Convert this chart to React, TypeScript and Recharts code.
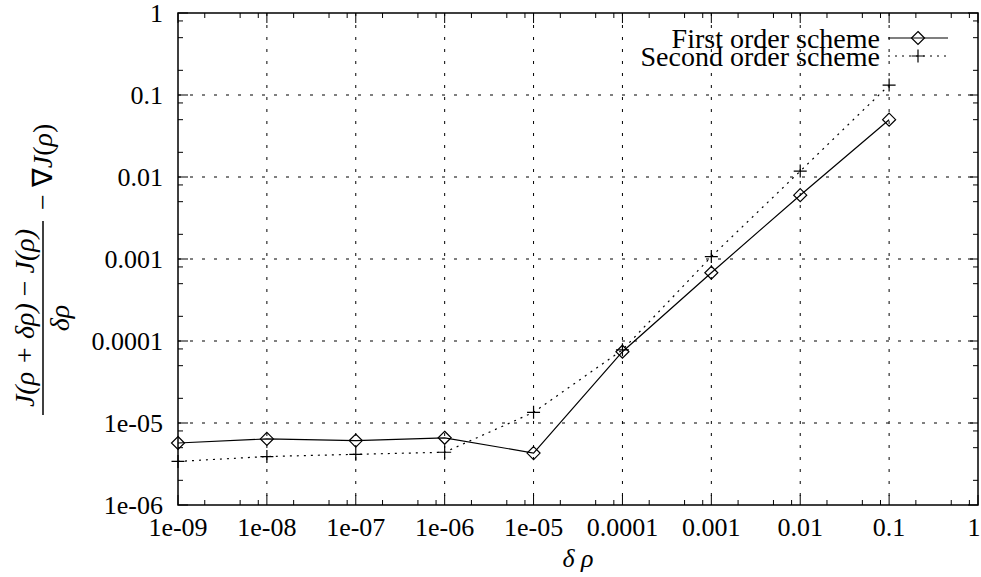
import React from 'react';
import { LineChart, Line, XAxis, YAxis, ReferenceArea, Legend } from 'recharts';

// step sizes and the two error curves
const deltaRho = [1e-9, 1e-8, 1e-7, 1e-6, 1e-5, 1e-4, 1e-3, 1e-2, 1e-1];
const firstOrder = [5.7e-6, 6.4e-6, 6.1e-6, 6.6e-6, 4.3e-6, 7.4e-5, 6.8e-4, 6.0e-3, 0.05];
const secondOrder = [3.4e-6, 3.9e-6, 4.15e-6, 4.4e-6, 1.35e-5, 7.8e-5, 1.07e-3, 0.0118, 0.132];

const xMajorTicks = [1e-9, 1e-8, 1e-7, 1e-6, 1e-5, 1e-4, 1e-3, 1e-2, 1e-1, 1];
const xTickLabels = ['1e-09', '1e-08', '1e-07', '1e-06', '1e-05', '0.0001', '0.001', '0.01', '0.1', '1'];
const yMajorTicks = [1e-6, 1e-5, 1e-4, 1e-3, 1e-2, 1e-1, 1];
const yTickLabels = ['1e-06', '1e-05', '0.0001', '0.001', '0.01', '0.1', '1'];
const minorSteps = [2, 5, 8];

const seriesNames = ['First order scheme', 'Second order scheme'];

const data = deltaRho.map((d, i) => ({ d, first: firstOrder[i], second: secondOrder[i] }));

const withMinor = (majors: number[]) => {
  const out: number[] = [];
  majors.forEach((m, i) => {
    out.push(m);
    if (i < majors.length - 1) minorSteps.forEach(s => out.push(m * s));
  });
  return out;
};

const W = 981;
const H = 577;
const M = { top: 13, right: 3, left: 0, bottom: 0 };
const Y_AXIS_W = 178;
const X_AXIS_H = 72;
const PL = Y_AXIS_W;
const PR = W - M.right;
const PT = M.top;
const PB = H - X_AXIS_H;

const FONT = '"Liberation Serif", "Times New Roman", serif';
const FS = 26;
const GRID_DASH = '3 9';

const XTick = (props: any) => {
  const { x, payload } = props;
  const v = payload.value;
  const idx = xMajorTicks.indexOf(v);
  const major = idx >= 0;
  const len = major ? 10 : 5;
  return (
    <g>
      {major && idx > 0 && idx < xMajorTicks.length - 1 && (
        <line x1={x} x2={x} y1={PT} y2={PB} stroke="#000" strokeDasharray={GRID_DASH} />
      )}
      <line x1={x} x2={x} y1={PB} y2={PB - len} stroke="#000" />
      <line x1={x} x2={x} y1={PT} y2={PT + len} stroke="#000" />
      {major && (
        <text x={idx === xMajorTicks.length - 1 ? x - 4 : x} y={PB + 22} textAnchor="middle" dominantBaseline="central" style={{ fontFamily: FONT, fontSize: FS }} fill="#000">
          {xTickLabels[idx]}
        </text>
      )}
    </g>
  );
};

const YTick = (props: any) => {
  const { y, payload } = props;
  const v = payload.value;
  const idx = yMajorTicks.indexOf(v);
  const major = idx >= 0;
  const len = major ? 10 : 5;
  return (
    <g>
      {major && idx > 0 && idx < yMajorTicks.length - 1 && (
        <line x1={PL} x2={PR} y1={y} y2={y} stroke="#000" strokeDasharray={GRID_DASH} />
      )}
      <line x1={PL} x2={PL + len} y1={y} y2={y} stroke="#000" />
      <line x1={PR} x2={PR - len} y1={y} y2={y} stroke="#000" />
      {major && (
        <text x={PL - 15} y={y} textAnchor="end" dominantBaseline="central" style={{ fontFamily: FONT, fontSize: FS }} fill="#000">
          {yTickLabels[idx]}
        </text>
      )}
    </g>
  );
};

const Diamond = (props: any) => {
  const { cx, cy, index } = props;
  const r = 6.5;
  return (
    <path key={`d${index}`} d={`M${cx},${cy - r}L${cx + r},${cy}L${cx},${cy + r}L${cx - r},${cy}Z`} fill="none" stroke="#000" strokeWidth={1.2} />
  );
};

const Plus = (props: any) => {
  const { cx, cy, index } = props;
  const r = 6.5;
  return (
    <path key={`p${index}`} d={`M${cx - r},${cy}H${cx + r}M${cx},${cy - r}V${cy + r}`} fill="none" stroke="#000" strokeWidth={1.2} />
  );
};

const YLabel = () => {
  const cx = 43;
  const cy = 318;
  return (
    <g transform={`translate(${cx},${cy}) rotate(-90)`} style={{ fontFamily: FONT, fontSize: 28 }} fill="#000">
      <text x={0} y={-9} textAnchor="middle" fontStyle="italic">
        J(ρ + δρ) <tspan fontStyle="normal">−</tspan> J(ρ)
      </text>
      <line x1={-97} x2={97} y1={0} y2={0} stroke="#000" strokeWidth={1.5} />
      <text x={0} y={26} textAnchor="middle" fontStyle="italic">δρ</text>
      <text x={108} y={9} textAnchor="start">
        − ∇<tspan fontStyle="italic">J</tspan>(<tspan fontStyle="italic">ρ</tspan>)
      </text>
    </g>
  );
};

const XLabel = (props: any) => {
  const { viewBox } = props;
  const cx = viewBox.x + viewBox.width / 2;
  return (
    <text x={cx} y={H - 19} textAnchor="middle" dominantBaseline="central" fontStyle="italic" style={{ fontFamily: FONT, fontSize: FS }} fill="#000">
      δ ρ
    </text>
  );
};

const LegendBox = () => (
  <svg width={360} height={45} style={{ display: 'block', overflow: 'visible' }}>
    <g style={{ fontFamily: FONT, fontSize: 28 }} fill="#000">
      <text x={250} y={16} textAnchor="end" dominantBaseline="central">{seriesNames[0]}</text>
      <line x1={258} x2={318} y1={16} y2={16} stroke="#000" strokeWidth={1.2} />
      <Diamond cx={288} cy={16} index={0} />
      <text x={250} y={34} textAnchor="end" dominantBaseline="central">{seriesNames[1]}</text>
      <line x1={258} x2={318} y1={34} y2={34} stroke="#000" strokeWidth={1.2} strokeDasharray="2 5" />
      <Plus cx={288} cy={34} index={1} />
    </g>
  </svg>
);

export default function App() {
  return (
    <div style={{ position: 'absolute', left: 0, top: 0, background: '#fff', fontFamily: FONT }}>
      <LineChart width={W} height={H} data={data} margin={M}>
        <XAxis
          dataKey="d"
          type="number"
          scale="log"
          domain={[1e-9, 1]}
          ticks={withMinor(xMajorTicks)}
          interval={0}
          tick={<XTick />}
          tickLine={false}
          axisLine={false}
          height={X_AXIS_H}
          label={{ content: <XLabel /> }}
        />
        <YAxis
          type="number"
          scale="log"
          domain={[1e-6, 1]}
          ticks={withMinor(yMajorTicks)}
          interval={0}
          tick={<YTick />}
          tickLine={false}
          axisLine={false}
          width={Y_AXIS_W}
          label={{ content: <YLabel /> }}
        />
        <ReferenceArea x1={1e-9} x2={1} y1={1e-6} y2={1} fill="none" stroke="#000" strokeWidth={1.5} ifOverflow="visible" />
        <Line
          dataKey="first"
          name={seriesNames[0]}
          stroke="#000"
          strokeWidth={1.2}
          dot={<Diamond />}
          isAnimationActive={false}
        />
        <Line
          dataKey="second"
          name={seriesNames[1]}
          stroke="#000"
          strokeWidth={1.2}
          strokeDasharray="2 5"
          dot={<Plus />}
          isAnimationActive={false}
        />
        <Legend
          verticalAlign="middle"
          align="center"
          layout="horizontal"
          content={<LegendBox />}
          wrapperStyle={{ position: 'absolute', left: 630, top: 22, width: 360 }}
        />
      </LineChart>
    </div>
  );
}
